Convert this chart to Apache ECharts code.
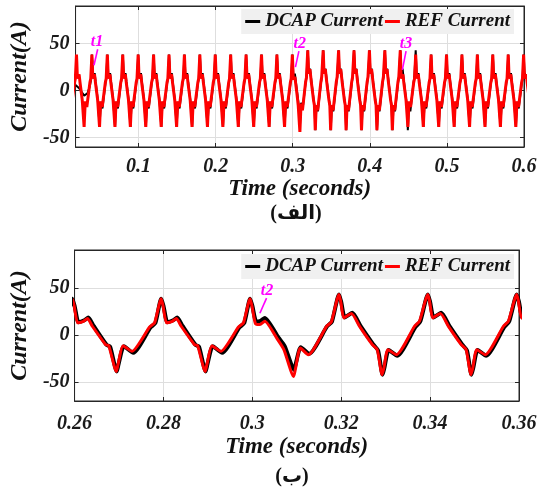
<!DOCTYPE html>
<html>
<head>
<meta charset="utf-8">
<script src="https://cdn.jsdelivr.net/npm/echarts@6/dist/echarts.min.js"></script>
<style>
  html, body { margin: 0; background: #fff; }
  #chart { width: 540px; height: 490px; }
</style>
</head>
<body>
<div id="chart"></div>
<script>
// one 20 ms cycle of the current (b): ms after the peak, amps
// A = before t2, B = after t2, T = the cycle right after t2, C = B peak then A body
const msA   = [0, 0.4, 1.2, 2.5, 3.4, 4.5, 7.5, 8.2, 9.9, 10.3, 11.4, 13.4, 17.4, 18.5];
const refA  = [38.3, 31, 12.8, 14.5, 17.3, 9.2, -10.3, -11.4, -38.7, -31, -11.4, -17.4, 8.5, 12.8];
const msAd  = [0, 0.5, 1.4, 2.7, 3.6, 4.8, 7.7, 8.5, 10.0, 10.4, 11.6, 13.7, 17.6, 18.7];
const dcapA = [38.3, 31, 13.5, 15.5, 18.5, 9.5, -10.5, -12.5, -38.7, -31, -12, -19, 8, 12.8];

const msB   = [0, 0.4, 1.1, 2.8, 4.7, 7.5, 8.6, 9.7, 10.1, 11.0, 12.9, 17.0, 18.1];
const refB  = [42.9, 35, 18, 22.7, 8.5, -10.3, -15.6, -42.2, -35, -15.6, -21, 9.2, 14.5];
const msBd  = [0, 0.5, 1.3, 3.0, 4.9, 7.7, 8.8, 9.8, 10.2, 11.2, 13.1, 17.2, 18.3];
const dcapB = [42.9, 35, 18.5, 23.5, 9, -10, -16.5, -42.2, -35, -16, -22, 8.5, 14.5];

const msT   = [0, 0.4, 1.2, 2.2, 3.3, 6.2, 7.6, 9.8, 10.2, 11.3, 13.1, 17.2, 18.3];
const refT  = [38.3, 31, 12, 11, 14.5, -5, -15.6, -44, -36, -13.8, -21, 9, 14];
const msTd  = [0, 0.5, 1.4, 2.4, 3.3, 6.4, 7.8, 9.9, 10.3, 11.4, 13.3, 17.3, 18.4];
const dcapT = [38.3, 31, 14, 15, 18, -3, -12, -37, -30, -13, -20, 9, 14];

const refC  = [42.9, 33, 12.8, 14.5, 17.3, 9.2, -10.3, -11.4, -38.7, -31, -11.4, -17.4, 8.5, 12.8];
const dcapC = [42.9, 33, 13.5, 15.5, 18.5, 9.5, -10.5, -12.5, -38.7, -31, -12, -19, 8, 12.8];

// DCAP start-up transient in plot (a)
const dcapStartT = [0.0183, 0.0229, 0.0295, 0.0337, 0.0367, 0.0385];
const dcapStartV = [6, 2.5, -5.3, -2.8, 4.3, 12];

// peak times of each cycle and which cycle shape follows
const topPeaks = [-0.0005, 0.0195, 0.0395, 0.0595, 0.0795, 0.0995, 0.1195, 0.1395,
  0.1595, 0.1795, 0.1995, 0.2195, 0.2395, 0.2595, 0.2795, 0.2995, 0.3195, 0.3395,
  0.3595, 0.3795, 0.3995, 0.4195, 0.4395, 0.4595, 0.4795, 0.4995, 0.5195, 0.5395,
  0.5595, 0.5795, 0.5995, 0.6195];
const topRefShape  = 'AAAAAAAAAAAAAAATBBBBBBCAAAAAAAAA';
const topDcapShape = '--AAAAAAAAAAAAATBBBBBBBCAAAAAAAA';

const botPeaks = [0.2395, 0.2595, 0.2795, 0.2995, 0.3195, 0.3395, 0.3595, 0.3795];
const botRefShape  = 'AAATBBBB';
const botDcapShape = 'AAATBBBB';

const topTicks = [0.1, 0.2, 0.3, 0.4, 0.5, 0.6];
const botTicks = [0.26, 0.28, 0.30, 0.32, 0.34, 0.36];
const yTicks = [-50, 0, 50];

// arrows: label position, arrow start, arrow end (data units)
const topNotes = ['t1', 't2', 't3'];
const topNoteAt   = [[0.046, 52], [0.309, 50], [0.447, 50]];
const topNoteFrom = [[0.047, 44], [0.308, 42], [0.447, 42]];
const topNoteTo   = [[0.0422, 27], [0.3035, 25], [0.4422, 22]];
const botNotes = ['t2'];
const botNoteAt   = [[0.3033, 47]];
const botNoteFrom = [[0.3032, 39]];
const botNoteTo   = [[0.3017, 23]];

const refTable  = { A: [msA, refA], B: [msB, refB], T: [msT, refT], C: [msA, refC] };
const dcapTable = { A: [msAd, dcapA], B: [msBd, dcapB], T: [msTd, dcapT], C: [msAd, dcapC] };

function build(peaks, shapes, table, head) {
  const out = head || [];
  peaks.forEach(function (p, i) {
    const s = table[shapes[i]];
    if (!s) return;
    s[0].forEach(function (m, j) {
      out.push([+(p + m / 1000).toFixed(5), s[1][j]]);
    });
  });
  return out;
}

const serif = "'Liberation Serif', 'Times New Roman', serif";
const ink = '#262626';

function fmt(v) { return String(Math.round(v * 100) / 100); }

function xAxis(grid, min, max, ticks, position, labels, margin, gap) {
  return {
    type: 'value', gridIndex: grid, min: min, max: max, position: position,
    name: labels ? 'Time (seconds)' : '', nameLocation: 'middle', nameGap: gap,
    nameTextStyle: { fontFamily: serif, fontStyle: 'italic', fontWeight: 'bold', fontSize: 23, color: '#111' },
    axisLine: { show: true, onZero: false, lineStyle: { color: ink, width: 1 } },
    axisTick: { show: true, inside: true, length: 4, customValues: ticks, lineStyle: { color: ink } },
    axisLabel: {
      show: labels, customValues: ticks, formatter: fmt, margin: margin,
      fontFamily: serif, fontStyle: 'italic', fontWeight: 'bold', fontSize: 20, color: '#1a1a1a'
    },
    splitLine: { show: labels, lineStyle: { color: '#dedede', width: 1 } }
  };
}

function yAxis(grid, min, max, position, labels, margin) {
  return {
    type: 'value', gridIndex: grid, min: min, max: max, position: position,
    name: labels ? 'Current(A)' : '', nameLocation: 'middle', nameGap: 35,
    nameTextStyle: { fontFamily: serif, fontStyle: 'italic', fontWeight: 'bold', fontSize: 24, color: '#111' },
    axisLine: { show: true, onZero: false, lineStyle: { color: ink, width: 1 } },
    axisTick: { show: true, inside: true, length: 4, customValues: yTicks, lineStyle: { color: ink } },
    axisLabel: {
      show: labels, customValues: yTicks, margin: margin,
      fontFamily: serif, fontStyle: 'italic', fontWeight: 'bold', fontSize: 20, color: '#1a1a1a'
    },
    splitLine: { show: labels, lineStyle: { color: '#dedede', width: 1 } }
  };
}

function notes(names, at, from, to) {
  return {
    markLine: {
      silent: true, symbol: ['none', 'arrow'], symbolSize: [0, 10],
      lineStyle: { color: '#ff00ff', width: 1.6, type: 'solid' },
      label: { show: false },
      data: names.map(function (n, i) { return [{ coord: from[i] }, { coord: to[i] }]; })
    },
    markPoint: {
      silent: true, symbol: 'circle', symbolSize: 1,
      itemStyle: { color: 'rgba(0,0,0,0)' },
      label: {
        show: true, position: 'inside', formatter: '{b}', color: '#ff00ff',
        fontFamily: serif, fontStyle: 'italic', fontWeight: 'bold', fontSize: 16
      },
      data: names.map(function (n, i) { return { name: n, coord: at[i] }; })
    }
  };
}

function line(name, color, width, xi, yi, data, extra) {
  return Object.assign({
    name: name, type: 'line', xAxisIndex: xi, yAxisIndex: yi, data: data,
    showSymbol: false, symbol: 'none', clip: true,
    lineStyle: { color: color, width: width }, itemStyle: { color: color }
  }, extra || {});
}

function legend(top) {
  return {
    top: top, right: 26, orient: 'horizontal',
    data: ['DCAP Current', 'REF Current'],
    icon: 'rect', itemWidth: 15, itemHeight: 3, itemGap: 2,
    backgroundColor: '#f0f0f0', padding: [3, 4],
    textStyle: { fontFamily: serif, fontStyle: 'italic', fontWeight: 'bold', fontSize: 19, color: '#111' }
  };
}

const chart = echarts.init(document.getElementById('chart'), null, { renderer: 'canvas' });

const topDcap = build(topPeaks, topDcapShape, dcapTable,
  dcapStartT.map(function (t, i) { return [t, dcapStartV[i]]; }));
const topRef = build(topPeaks, topRefShape, refTable);
const botDcap = build(botPeaks, botDcapShape, dcapTable);
const botRef = build(botPeaks, botRefShape, refTable);

chart.setOption({
  animation: false,
  backgroundColor: '#fff',
  grid: [
    { left: 69, top: 6, width: 455, height: 141, show: true, borderColor: ink, borderWidth: 1, backgroundColor: '#fff' },
    { left: 65, top: 250, width: 454, height: 151, show: true, borderColor: ink, borderWidth: 1, backgroundColor: '#fff' }
  ],
  legend: [legend(9), legend(254)],
  xAxis: [
    xAxis(0, 0.0183, 0.6, topTicks, 'bottom', true, 10, 26),
    xAxis(1, 0.26, 0.36, botTicks, 'bottom', true, 13, 35),
    xAxis(0, 0.0183, 0.6, topTicks, 'top', false, 8, 0),
    xAxis(1, 0.26, 0.36, botTicks, 'top', false, 8, 0)
  ],
  yAxis: [
    yAxis(0, -60, 90, 'left', true, 6),
    yAxis(1, -70, 90, 'left', true, 5),
    yAxis(0, -60, 90, 'right', false, 6),
    yAxis(1, -70, 90, 'right', false, 5)
  ],
  series: [
    line('DCAP Current', '#000000', 2, 0, 0, topDcap),
    line('REF Current', '#ff0000', 3, 0, 0, topRef, notes(topNotes, topNoteAt, topNoteFrom, topNoteTo)),
    line('DCAP Current', '#000000', 4, 1, 1, botDcap, { smooth: 0.2 }),
    line('REF Current', '#ff0000', 3, 1, 1, botRef,
      Object.assign({ smooth: 0.2 }, notes(botNotes, botNoteAt, botNoteFrom, botNoteTo)))
  ],
  graphic: [
    { type: 'text', x: 296, y: 214, style: { text: '(الف)', align: 'center', verticalAlign: 'middle',
      font: "bold 20px 'Liberation Serif', 'DejaVu Sans', serif", fill: '#111' } },
    { type: 'text', x: 292, y: 477, style: { text: '(ب)', align: 'center', verticalAlign: 'middle',
      font: "bold 20px 'Liberation Serif', 'DejaVu Sans', serif", fill: '#111' } }
  ]
});
</script>
</body>
</html>
